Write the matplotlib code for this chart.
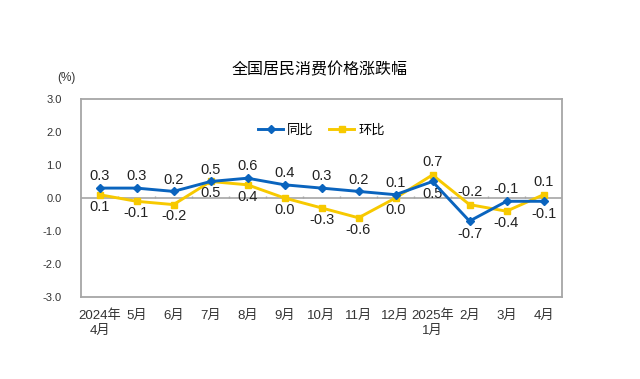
import numpy as np
import matplotlib.pyplot as plt

plt.rcParams['font.family'] = ['Liberation Sans', 'Noto Sans CJK SC', 'DejaVu Sans']

months = ['2024年\n4月', '5月', '6月', '7月', '8月', '9月', '10月', '11月', '12月',
          '2025年\n1月', '2月', '3月', '4月']
yoy = [0.3, 0.3, 0.2, 0.5, 0.6, 0.4, 0.3, 0.2, 0.1, 0.5, -0.7, -0.1, -0.1]
mom = [0.1, -0.1, -0.2, 0.5, 0.4, 0.0, -0.3, -0.6, 0.0, 0.7, -0.2, -0.4, 0.1]
# which series gets its label above the point
yoy_above = [True] * 9 + [False, False, True, False]

blue = '#0A64BE'
gold = '#F7C900'
grey = '#A6A6A6'

fig = plt.figure(figsize=(6.4, 3.79), dpi=100)
ax = fig.add_axes([81 / 640, 1 - 297 / 379, 481 / 640, 198 / 379])

x = np.arange(len(months))
ax.plot(x, yoy, color=blue, lw=2.1, marker='D', ms=4.5, label='同比', zorder=4)
ax.plot(x, mom, color=gold, lw=2.1, marker='s', ms=4.5, label='环比', zorder=3)

ax.axhline(0, color=grey, lw=1.2, zorder=1)
ax.vlines(np.arange(len(months) - 1) + 0.5, 0, 0.07, color=grey, lw=1, zorder=1)

for i in x:
    up = 8.5 if yoy_above[i] else -9
    ax.annotate(f'{yoy[i]:.1f}', (i, yoy[i]), xytext=(0, up), textcoords='offset points',
                ha='center', va='center', fontsize=10.5, color='#222222')
    ax.annotate(f'{mom[i]:.1f}', (i, mom[i]), xytext=(0, -up), textcoords='offset points',
                ha='center', va='center', fontsize=10.5, color='#222222')

ax.set_xlim(-0.5, len(months) - 0.5)
ax.set_ylim(-3.0, 3.0)
ax.set_yticks(np.arange(-3, 3.1, 1.0))
ax.set_yticklabels([f'{v:.1f}' for v in np.arange(-3, 3.1, 1.0)])
ax.set_xticks(x)
ax.set_xticklabels(months, fontsize=9.5, linespacing=1.3)
ax.tick_params(axis='both', length=0, colors='#333333', labelsize=8)
ax.tick_params(axis='x', labelsize=9.5, pad=9)
ax.tick_params(axis='y', pad=14)
for s in ax.spines.values():
    s.set_color(grey)
    s.set_linewidth(1.3)

ax.legend(loc='center', bbox_to_anchor=(0.5, 0.84), ncol=2, frameon=False,
          fontsize=9.5, handlelength=1.9, columnspacing=1.2, handletextpad=0.3)

fig.text(0.5, 1 - 70 / 379, '全国居民消费价格涨跌幅', ha='center', va='center', fontsize=11.5)
fig.text(66 / 640, 1 - 78 / 379, '(%)', ha='center', va='center', fontsize=8.5, color='#333333')

fig.savefig('out.png', dpi=100)
